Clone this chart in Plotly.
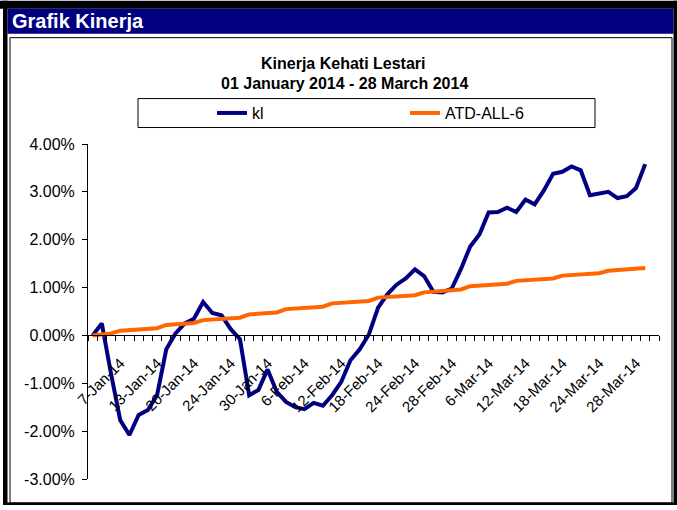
import plotly.graph_objects as go

# ---------------- data ----------------
dates = [
    "1-Jan-14", "2-Jan-14", "3-Jan-14", "6-Jan-14", "7-Jan-14", "8-Jan-14", "9-Jan-14", "10-Jan-14",
    "13-Jan-14", "15-Jan-14", "16-Jan-14", "17-Jan-14", "20-Jan-14", "21-Jan-14", "22-Jan-14", "23-Jan-14",
    "24-Jan-14", "27-Jan-14", "28-Jan-14", "29-Jan-14", "30-Jan-14", "3-Feb-14", "4-Feb-14", "5-Feb-14",
    "6-Feb-14", "7-Feb-14", "10-Feb-14", "11-Feb-14", "12-Feb-14", "13-Feb-14", "14-Feb-14", "17-Feb-14",
    "18-Feb-14", "19-Feb-14", "20-Feb-14", "21-Feb-14", "24-Feb-14", "25-Feb-14", "26-Feb-14", "27-Feb-14",
    "28-Feb-14", "3-Mar-14", "4-Mar-14", "5-Mar-14", "6-Mar-14", "7-Mar-14", "10-Mar-14", "11-Mar-14",
    "12-Mar-14", "13-Mar-14", "14-Mar-14", "17-Mar-14", "18-Mar-14", "19-Mar-14", "20-Mar-14", "21-Mar-14",
    "24-Mar-14", "25-Mar-14", "26-Mar-14", "27-Mar-14", "28-Mar-14", "31-Mar-14",
]

tick_labels = [
    "7-Jan-14", "13-Jan-14", "20-Jan-14", "24-Jan-14", "30-Jan-14", "6-Feb-14", "12-Feb-14",
    "18-Feb-14", "24-Feb-14", "28-Feb-14", "6-Mar-14", "12-Mar-14", "18-Mar-14", "24-Mar-14", "28-Mar-14",
]

kl = [
    0.00, 0.25, -0.80, -1.77, -2.08, -1.66, -1.56, -1.25, -0.29, 0.04,
    0.25, 0.35, 0.70, 0.47, 0.42, 0.13, -0.08, -1.25, -1.14, -0.71,
    -1.18, -1.39, -1.50, -1.54, -1.41, -1.47, -1.25, -0.97, -0.52, -0.29,
    0.02, 0.58, 0.86, 1.06, 1.19, 1.38, 1.24, 0.91, 0.90, 0.98,
    1.39, 1.86, 2.11, 2.57, 2.58, 2.67, 2.58, 2.84, 2.74, 3.03,
    3.38, 3.42, 3.53, 3.45, 2.93, 2.96, 3.00, 2.87, 2.91, 3.08,
    3.58, None,
]

atd = [
    0.00, 0.02, 0.04, 0.10, 0.11, 0.12, 0.14, 0.15, 0.22, 0.23,
    0.25, 0.26, 0.32, 0.33, 0.35, 0.36, 0.37, 0.44, 0.45, 0.47,
    0.48, 0.55, 0.56, 0.57, 0.59, 0.60, 0.67, 0.68, 0.69, 0.71,
    0.72, 0.79, 0.80, 0.81, 0.83, 0.84, 0.90, 0.91, 0.93, 0.94,
    0.96, 1.03, 1.04, 1.06, 1.07, 1.08, 1.14, 1.15, 1.17, 1.18,
    1.19, 1.25, 1.26, 1.28, 1.29, 1.30, 1.35, 1.36, 1.38, 1.39,
    1.41, None,
]

y_ticks = [-3, -2, -1, 0, 1, 2, 3, 4]
y_tick_text = ["-3.00%", "-2.00%", "-1.00%", "0.00%", "1.00%", "2.00%", "3.00%", "4.00%"]

# ---------------- layout geometry ----------------
W, H = 677, 510
ML, MR, MT, MB = 88, 18, 143.5, 31
PW, PH = W - ML - MR, H - MT - MB
FONT = "Liberation Sans, Arial, sans-serif"


def px(x):
    return (x - ML) / PW


def py(y):
    return (H - MB - y) / PH


def rect(x0, y0, x1, y1, **kw):
    return dict(type="rect", xref="paper", yref="paper",
                x0=px(x0), x1=px(x1), y0=py(y1), y1=py(y0), **kw)


fig = go.Figure()
fig.add_trace(go.Scatter(x=dates, y=kl, mode="lines", name="kl",
                         line=dict(color="#000080", width=4)))
fig.add_trace(go.Scatter(x=dates, y=atd, mode="lines", name="ATD-ALL-6",
                         line=dict(color="#FF6600", width=4)))

shapes = [
    # outer dark frame
    rect(0, 0, W, 8, fillcolor="black", line_width=0),
    rect(3, 0, 7.5, 505, fillcolor="black", line_width=0),
    rect(673.5, 0, W, 505, fillcolor="black", line_width=0),
    rect(3, 502.5, W, 505, fillcolor="black", line_width=0),
    # header bar
    rect(7.5, 8, 673.5, 33, fillcolor="#000080", line_width=0),
    # inner chart box
    rect(10, 37, 672, 503, line=dict(color="black", width=1)),
    # legend box
    rect(138, 98, 595, 127, line=dict(color="black", width=1)),
]

annotations = [
    dict(text="<b>Grafik Kinerja</b>", x=px(10), y=py(20.5), xref="paper", yref="paper",
         xanchor="left", yanchor="middle", showarrow=False,
         font=dict(family=FONT, size=20, color="white")),
    dict(text="<b>Kinerja Kehati Lestari</b>", x=px(343), y=py(63), xref="paper", yref="paper",
         xanchor="center", yanchor="middle", showarrow=False,
         font=dict(family=FONT, size=16, color="black")),
    dict(text="<b>01 January 2014 - 28 March 2014</b>", x=px(344), y=py(83), xref="paper", yref="paper",
         xanchor="center", yanchor="middle", showarrow=False,
         font=dict(family=FONT, size=16, color="black")),
]

fig.update_layout(
    width=W, height=H,
    margin=dict(l=ML, r=MR, t=MT, b=MB, pad=0, autoexpand=False),
    paper_bgcolor="white", plot_bgcolor="white",
    font=dict(family=FONT, color="black"),
    shapes=shapes,
    annotations=annotations,
    showlegend=True,
    legend=dict(orientation="h", x=px(212), y=py(112.5), xanchor="left", yanchor="middle",
                bgcolor="rgba(0,0,0,0)", borderwidth=0, entrywidth=148,
                font=dict(family=FONT, size=16, color="black")),
    xaxis=dict(type="category", categoryorder="array", categoryarray=dates,
               range=[-0.5, len(dates) - 0.5],
               anchor="free", position=3 / 7,
               tickson="boundaries", tickmode="array", tickvals=dates,
               ticktext=[d if d in tick_labels else "" for d in dates],
               tickangle=-45, ticks="outside", ticklen=5, tickcolor="black", tickwidth=1,
               ticklabelstandoff=12, ticklabelshift=-9,
               showline=True, linecolor="black", linewidth=1,
               showgrid=False, zeroline=False,
               tickfont=dict(family=FONT, size=15, color="black")),
    yaxis=dict(range=[-3, 4], domain=[0, 1], tickmode="array", tickvals=y_ticks, ticktext=y_tick_text,
               ticks="outside", ticklen=5, tickcolor="black", tickwidth=1,
               ticklabelstandoff=4,
               showline=True, linecolor="black", linewidth=1,
               showgrid=False, zeroline=False,
               tickfont=dict(family=FONT, size=16, color="black")),
)

fig.write_html("out.html", config={"displayModeBar": False},
               post_script="document.body.style.margin='0';")
